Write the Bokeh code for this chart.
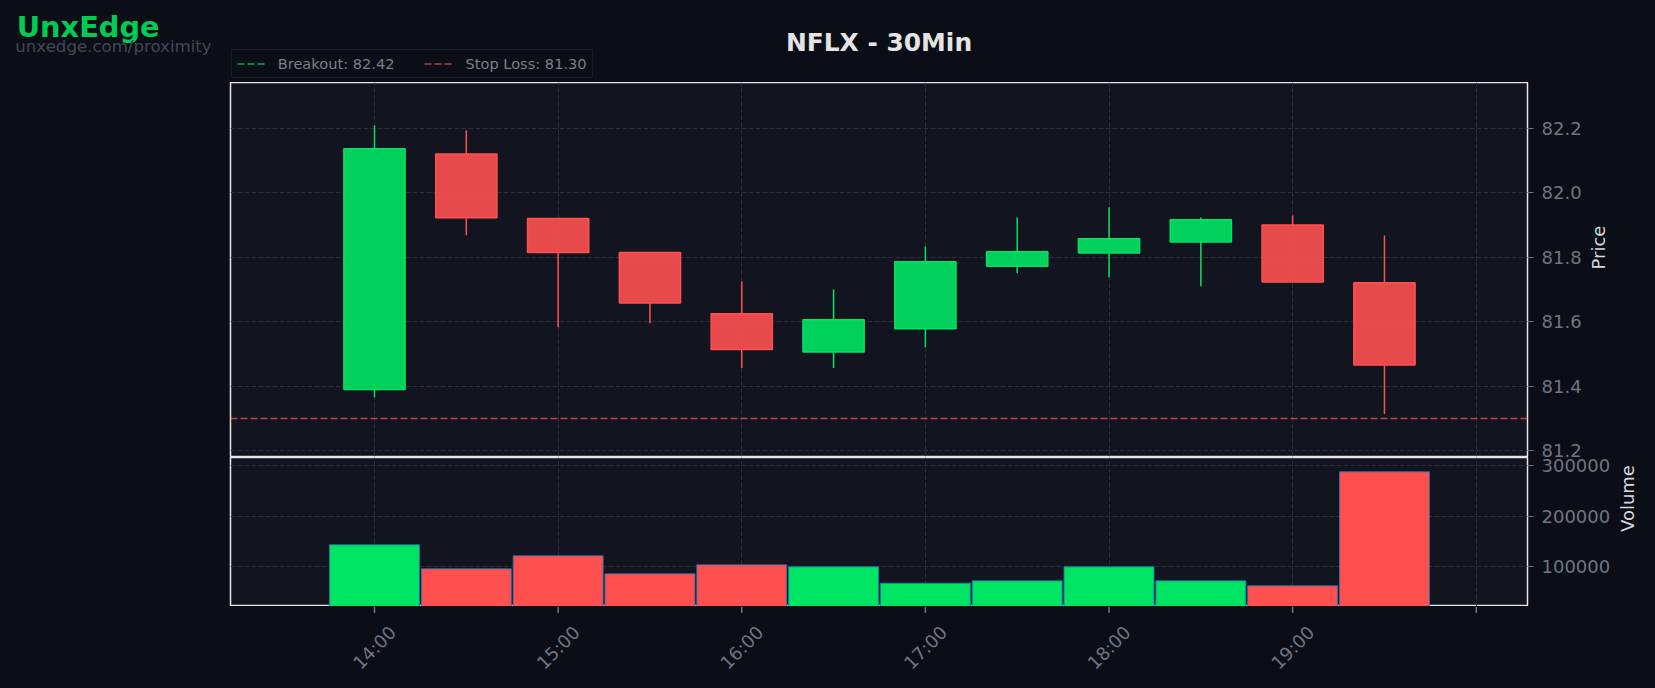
import math
from bokeh.plotting import figure
from bokeh.models import (Range1d, FixedTicker, NumeralTickFormatter, Label,
                          Legend, LegendItem, ColumnDataSource)
from bokeh.layouts import column
from bokeh.embed import file_html
from bokeh.resources import INLINE

# ---------------- data ----------------
symbol_title = "NFLX - 30Min"
brand = "UnxEdge"
brand_url = "unxedge.com/proximity"

times = ["14:00", "14:30", "15:00", "15:30", "16:00", "16:30",
         "17:00", "17:30", "18:00", "18:30", "19:00", "19:30"]
opens = [81.390, 82.120, 81.920, 81.815, 81.625, 81.506,
         81.578, 81.772, 81.813, 81.847, 81.900, 81.721]
highs = [82.208, 82.193, 81.920, 81.816, 81.725, 81.700,
         81.833, 81.923, 81.955, 81.923, 81.929, 81.867]
lows = [81.366, 81.868, 81.583, 81.595, 81.457, 81.457,
        81.521, 81.750, 81.738, 81.710, 81.723, 81.314]
closes = [82.136, 81.922, 81.815, 81.658, 81.514, 81.606,
          81.786, 81.817, 81.857, 81.916, 81.723, 81.466]
volumes = [143200, 95400, 121300, 85500, 103400, 99400,
           66800, 71500, 99400, 71500, 61600, 288500]

breakout = 82.42
stop_loss = 81.30

tick_hours = [14, 15, 16, 17, 18, 19, 20]
tick_labels = ["14:00", "15:00", "16:00", "17:00", "18:00", "19:00", ""]
price_ticks = [81.2, 81.4, 81.6, 81.8, 82.0, 82.2]
volume_ticks = [100000, 200000, 300000]

# ---------------- style ----------------
PAGE_BG = "#0b0e17"
PLOT_BG = "#121520"
GREEN = "#00e463"
RED = "#ff5050"
GRID = "#2a2e3a"
TICK_TXT = "#6f7583"
LABEL_TXT = "#d6d8de"
OUTLINE = "#e6e6e6"
FONT = "DejaVu Sans"

x_start, x_end = 13.2158, 20.2789
price_lo, price_hi = 81.1824, 82.3415
vol_lo, vol_hi = 20400, 316900

FULL_W = 1639
FRAME_W = 1297
LEFT = 222
RIGHT = FULL_W - LEFT - FRAME_W
HEAD_H = 74
FOOT_H = 74

hours = [int(t[:2]) + int(t[3:]) / 60 for t in times]
colors = [GREEN if c >= o else RED for o, c in zip(opens, closes)]
src = ColumnDataSource(dict(
    x=hours, open=opens, close=closes, high=highs, low=lows,
    top=[max(o, c) for o, c in zip(opens, closes)],
    bottom=[min(o, c) for o, c in zip(opens, closes)],
    vol=volumes, color=colors,
))


def style(fig):
    fig.background_fill_color = PLOT_BG
    fig.border_fill_color = PAGE_BG
    fig.outline_line_color = OUTLINE
    fig.outline_line_width = 1.5
    fig.xgrid.ticker = FixedTicker(ticks=tick_hours)
    for g in (fig.xgrid, fig.ygrid):
        g.grid_line_color = GRID
        g.grid_line_dash = "5 2"
        g.grid_line_width = 1
    for ax in fig.yaxis:
        ax.axis_line_color = None
        ax.major_tick_line_color = TICK_TXT
        ax.major_tick_out = 6
        ax.major_tick_in = 0
        ax.minor_tick_line_color = None
        ax.major_label_text_color = TICK_TXT
        ax.major_label_text_font = FONT
        ax.major_label_text_font_size = "18px"
        ax.major_label_standoff = 8
        ax.axis_label_text_color = LABEL_TXT
        ax.axis_label_text_font = FONT
        ax.axis_label_text_font_size = "18px"
        ax.axis_label_text_font_style = "normal"
        ax.axis_label_standoff = 14
        if "axis_label_orientation" in type(ax).properties():
            ax.axis_label_orientation = math.pi / 2


def bare(fig):
    fig.background_fill_color = PAGE_BG
    fig.border_fill_color = PAGE_BG
    fig.outline_line_color = None
    fig.xgrid.visible = False
    fig.ygrid.visible = False


# ---------------- header (title, brand, legend) ----------------
head = figure(width=FULL_W, height=HEAD_H,
              x_range=Range1d(0, FULL_W), y_range=Range1d(HEAD_H, 0),
              x_axis_location=None, y_axis_location=None, title=None,
              min_border_left=0, min_border_right=0, min_border_top=0,
              min_border_bottom=0, output_backend="svg", toolbar_location=None)
bare(head)

head.add_layout(Label(x=LEFT + FRAME_W / 2, y=34.0, text=symbol_title,
                      text_align="center", text_baseline="alphabetic",
                      text_font=FONT, text_font_size="24.9px", text_font_style="bold",
                      text_color="#e4e4e4"))
head.add_layout(Label(x=8.2, y=18.0, text=brand, text_align="left",
                      text_baseline="alphabetic", text_font=FONT,
                      text_font_size="28.8px", text_font_style="bold",
                      text_color="#00cc55"))
head.add_layout(Label(x=6.8, y=37.6, text=brand_url, text_align="left",
                      text_baseline="alphabetic", text_font=FONT,
                      text_font_size="16.6px", text_color="#424857"))

# legend entries (their lines lie outside the header's own range)
lg_break = head.line(x=[0, FULL_W], y=[breakout, breakout], line_color=GREEN,
                     line_alpha=0.75, line_width=1.6, line_dash="7 3")
lg_stop = head.line(x=[0, FULL_W], y=[stop_loss, stop_loss], line_color=RED,
                    line_alpha=0.75, line_width=1.6, line_dash="7 3")
legend = Legend(items=[
    LegendItem(label=f"Breakout: {breakout:.2f}", renderers=[lg_break]),
    LegendItem(label=f"Stop Loss: {stop_loss:.2f}", renderers=[lg_stop]),
], orientation="horizontal", location=(LEFT + 0.7, 4), margin=0, padding=5,
    spacing=30, label_standoff=12, glyph_width=29, glyph_height=17,
    label_height=17, label_text_font=FONT, label_text_font_size="14.6px",
    label_text_color="#7a7f8c", background_fill_color=PAGE_BG,
    background_fill_alpha=1, border_line_color="#262b3b", border_line_width=1)
head.add_layout(legend)

# ---------------- price panel ----------------
p = figure(frame_width=FRAME_W, frame_height=374,
           x_range=Range1d(x_start, x_end), y_range=Range1d(price_lo, price_hi),
           y_axis_location="right", x_axis_location=None, title=None,
           min_border_left=LEFT, min_border_top=0, min_border_bottom=8,
           min_border_right=RIGHT,
           output_backend="svg", toolbar_location=None)
style(p)
p.yaxis.ticker = FixedTicker(ticks=price_ticks)
p.yaxis.formatter = NumeralTickFormatter(format="0.0")
p.yaxis.axis_label = "Price"

# wicks: from the high down to the body, and from the body down to the low
p.segment(x0="x", y0="top", x1="x", y1="high", source=src,
          line_color="color", line_width=1.5)
p.segment(x0="x", y0="low", x1="x", y1="bottom", source=src,
          line_color="color", line_width=1.5)
p.vbar(x="x", width=1 / 3, top="top", bottom="bottom", source=src,
       fill_color="color", fill_alpha=0.9, line_color="color", line_width=1.5)

p.line(x=[x_start, x_end], y=[breakout, breakout], line_color=GREEN,
       line_alpha=0.75, line_width=1.5, line_dash="7 3")
p.line(x=[x_start, x_end], y=[stop_loss, stop_loss], line_color=RED,
       line_alpha=0.75, line_width=1.5, line_dash="7 3")

# ---------------- volume panel ----------------
vp = figure(frame_width=FRAME_W, frame_height=149,
            x_range=p.x_range, y_range=Range1d(vol_lo, vol_hi),
            y_axis_location="right", x_axis_location=None, title=None,
            min_border_left=LEFT, min_border_top=4, min_border_bottom=0,
            min_border_right=RIGHT, margin=(-11, 0, 0, 0),
            output_backend="svg", toolbar_location=None)
style(vp)
vp.border_fill_alpha = 0
vp.yaxis.ticker = FixedTicker(ticks=volume_ticks)
vp.yaxis.formatter = NumeralTickFormatter(format="0")
vp.yaxis.axis_label = "Volume"

vp.vbar(x="x", width=0.49, top="vol", bottom=0, source=src,
        fill_color="color", fill_alpha=1, line_color="#1f77b4", line_alpha=0.85,
        line_width=1)

# ---------------- time axis (ticks + rotated labels) ----------------
foot = figure(frame_width=FRAME_W, frame_height=FOOT_H,
              x_range=p.x_range, y_range=Range1d(FOOT_H, 0),
              x_axis_location=None, y_axis_location=None, title=None,
              min_border_left=LEFT, min_border_right=RIGHT, min_border_top=0,
              min_border_bottom=0, output_backend="svg", toolbar_location=None)
bare(foot)
foot.segment(x0=tick_hours, y0=[0] * len(tick_hours), x1=tick_hours,
             y1=[6.5] * len(tick_hours), line_color=TICK_TXT, line_width=1.5)
foot.text(x=tick_hours, y=[41.0] * len(tick_hours), text=tick_labels,
          angle=math.pi / 4, text_align="center", text_baseline="middle",
          text_font={"value": FONT}, text_font_size="18px", text_color=TICK_TXT)

charts = column(p, vp, foot, spacing=0)

html = file_html([head, charts], INLINE, title=symbol_title)
html = html.replace("</head>",
                    f"<style>body{{background-color:{PAGE_BG};margin:8px;}}</style></head>", 1)
open("out.html", "w").write(html)
